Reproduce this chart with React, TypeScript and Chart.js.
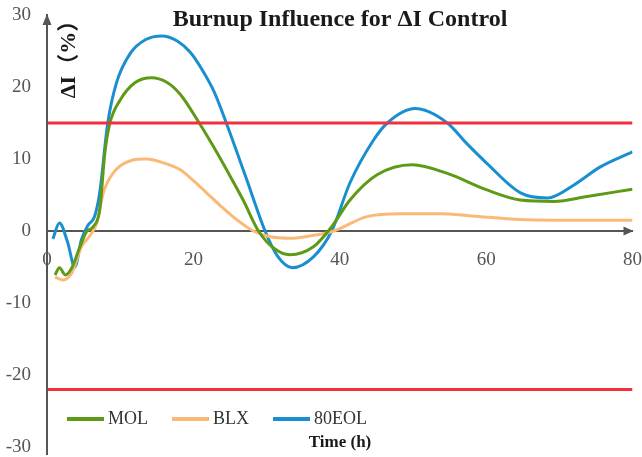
import React, { useEffect, useRef } from "react";
import { Chart, registerables } from "chart.js";

Chart.register(...registerables);

const TITLE = "Burnup Influence for ΔI Control";
const Y_TITLE = "ΔI（%）";
const X_TITLE = "Time (h)";

const SERIES_NAMES = ["MOL", "BLX", "80EOL"];
const SERIES_COLORS = ["#5f9a17", "#fbb977", "#1a8fd0"];
const LIMIT_COLOR = "#f0303c";
const AXIS_COLOR = "#555555";

const molT = [1.1, 1.7, 2.5, 3.4, 4.5, 5.4, 6.3, 7.2, 7.9, 8.6, 10.0, 12.0, 14.3, 16.3, 18.2, 20.8, 22.7, 24.6, 26.8, 28.9, 31.0, 33.2, 36.4, 38.9, 41.4, 45.1, 49.9, 54.7, 60.1, 64.7, 69.3, 73.8, 80.0];
const molV = [-6.1, -5.1, -6.1, -5.1, -2.2, -0.1, 0.6, 2.9, 10.8, 15.0, 18.2, 20.6, 21.3, 20.7, 19.0, 15.0, 11.8, 8.4, 4.3, 0.0, -2.4, -3.3, -2.2, 0.6, 4.3, 7.8, 9.2, 8.0, 5.7, 4.3, 4.1, 4.8, 5.8];

const blxT = [1.1, 2.2, 3.4, 4.7, 5.9, 6.8, 7.7, 9.0, 11.5, 13.6, 15.8, 18.2, 20.0, 21.8, 23.6, 25.4, 28.2, 30.5, 33.2, 36.4, 39.2, 43.7, 48.3, 53.8, 58.0, 64.7, 72.0, 80.0];
const blxV = [-6.4, -6.8, -5.8, -2.2, -0.6, 1.1, 5.3, 8.0, 9.8, 10.0, 9.5, 8.5, 7.0, 5.3, 3.6, 2.0, 0.0, -0.8, -1.0, -0.6, 0.0, 2.0, 2.4, 2.4, 2.1, 1.6, 1.5, 1.5];

const eolT = [0.8, 1.7, 2.8, 3.8, 4.7, 5.6, 6.5, 7.2, 8.3, 9.5, 11.4, 13.5, 15.7, 17.8, 19.6, 21.2, 22.9, 24.5, 27.2, 29.8, 31.5, 33.5, 36.4, 38.9, 41.4, 44.6, 46.5, 50.3, 54.7, 57.3, 60.1, 64.7, 68.4, 72.0, 75.6, 80.0];
const eolV = [-1.1, 1.1, -1.5, -5.0, -1.2, 0.8, 2.0, 5.3, 15.0, 20.6, 24.7, 26.6, 27.1, 26.4, 24.8, 22.4, 19.2, 15.0, 7.4, 0.0, -3.5, -5.1, -3.6, 0.0, 6.7, 12.6, 15.0, 17.0, 15.0, 12.2, 9.4, 5.3, 4.6, 6.4, 8.9, 11.0];

const LIMIT_T = [0, 80];
const UPPER_LIMIT = [15, 15];
const LOWER_LIMIT = [-22, -22];

const X_TICK_STEP = 20;
const Y_TICK_STEP = 10;

const toPts = (t: number[], v: number[]) => t.map((x, i) => ({ x, y: v[i] }));

const SERIF = '"Liberation Serif", "Times New Roman", serif';

const overlay = {
  id: "overlay",
  afterDraw(chart: any) {
    const { ctx, chartArea, scales } = chart;
    const left = chartArea.left;
    const top = chartArea.top;
    const bottom = chartArea.bottom;
    const right = chartArea.right;
    const y0 = scales.y.getPixelForValue(0);
    ctx.save();
    ctx.strokeStyle = AXIS_COLOR;
    ctx.fillStyle = AXIS_COLOR;
    ctx.lineWidth = 2;
    ctx.beginPath();
    ctx.moveTo(left, top + 6);
    ctx.lineTo(left, bottom + 8);
    ctx.stroke();
    ctx.beginPath();
    ctx.moveTo(left, top - 1);
    ctx.lineTo(left - 4.5, top + 10);
    ctx.lineTo(left + 4.5, top + 10);
    ctx.closePath();
    ctx.fill();
    ctx.beginPath();
    ctx.moveTo(right + 1, y0);
    ctx.lineTo(right - 9, y0 - 4.5);
    ctx.lineTo(right - 9, y0 + 4.5);
    ctx.closePath();
    ctx.fill();

    ctx.fillStyle = "#1a1a1a";
    ctx.font = `bold 24px ${SERIF}`;
    ctx.textAlign = "center";
    ctx.textBaseline = "middle";
    ctx.fillText(TITLE, 340, 20);

    ctx.font = `bold 17px ${SERIF}`;
    ctx.fillText(X_TITLE, 340, 443);

    ctx.save();
    ctx.translate(69, 54);
    ctx.rotate(-Math.PI / 2);
    ctx.font = `bold 22px ${SERIF}, "Noto Sans CJK SC"`;
    ctx.fillText(Y_TITLE, 0, 0);
    ctx.restore();

    ctx.font = `18px ${SERIF}`;
    ctx.textAlign = "left";
    let lx = 67;
    const ly = 419;
    SERIES_NAMES.forEach((name, i) => {
      ctx.strokeStyle = SERIES_COLORS[i];
      ctx.lineWidth = 4;
      ctx.beginPath();
      ctx.moveTo(lx, ly);
      ctx.lineTo(lx + 37, ly);
      ctx.stroke();
      ctx.fillStyle = "#333333";
      ctx.fillText(name, lx + 41, ly);
      lx += 41 + ctx.measureText(name).width + 24;
    });
    ctx.restore();
  },
};

export default function App() {
  const ref = useRef<HTMLCanvasElement | null>(null);
  useEffect(() => {
    if (!ref.current) return;
    const seriesT = [molT, blxT, eolT];
    const seriesV = [molV, blxV, eolV];
    const chart = new Chart(ref.current, {
      type: "line",
      data: {
        datasets: [
          {
            label: "upper",
            data: toPts(LIMIT_T, UPPER_LIMIT),
            borderColor: LIMIT_COLOR,
            borderWidth: 3,
            pointRadius: 0,
          },
          {
            label: "lower",
            data: toPts(LIMIT_T, LOWER_LIMIT),
            borderColor: LIMIT_COLOR,
            borderWidth: 3,
            pointRadius: 0,
          },
          ...SERIES_NAMES.map((name, i) => ({
            label: name,
            data: toPts(seriesT[i], seriesV[i]),
            borderColor: SERIES_COLORS[i],
            borderWidth: 3,
            pointRadius: 0,
            cubicInterpolationMode: "monotone" as const,
          })),
        ],
      },
      options: {
        animation: false,
        responsive: false,
        layout: { padding: { top: 15, bottom: 10, right: 9, left: 0 } },
        plugins: {
          legend: { display: false },
          title: { display: false },
          tooltip: { enabled: false },
        },
        scales: {
          x: {
            type: "linear",
            min: 0,
            max: 80,
            position: { y: 0 } as any,
            grid: { display: false, drawTicks: true, tickLength: 20 },
            border: { display: true, color: AXIS_COLOR, width: 2 },
            ticks: {
              stepSize: X_TICK_STEP,
              padding: 0,
              color: AXIS_COLOR,
              font: { family: SERIF, size: 19, lineHeight: 1 },
              maxRotation: 0,
            },
          },
          y: {
            type: "linear",
            min: -30,
            max: 30,
            grid: { display: false, drawTicks: true, tickLength: 16 },
            border: { display: true, color: AXIS_COLOR, width: 2 },
            ticks: {
              stepSize: Y_TICK_STEP,
              padding: 0,
              color: AXIS_COLOR,
              font: { family: SERIF, size: 19, lineHeight: 1 },
            },
            afterFit: (s: any) => {
              s.width = 47;
            },
          },
        },
      },
      plugins: [overlay],
    });
    return () => chart.destroy();
  }, []);
  return (
    <div style={{ position: "fixed", left: 0, top: 0, width: 642, height: 457, background: "#fff" }}>
      <canvas ref={ref} width={642} height={457} />
    </div>
  );
}
